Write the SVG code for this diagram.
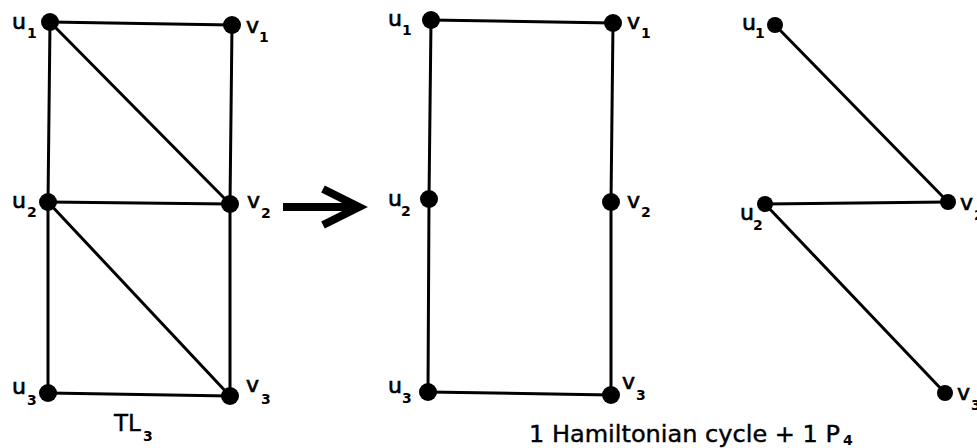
<svg xmlns="http://www.w3.org/2000/svg" width="977" height="448" viewBox="0 0 977 448">
<style>
  .e { stroke: #000; stroke-width: 3; fill: none; stroke-linecap: round; }
  .n { fill: #000; }
  .l { font-family: "DejaVu Sans", Verdana, sans-serif; font-size: 22px; fill: #000; stroke: #000; stroke-width: 0.7; }
  .s { font-family: "DejaVu Sans", Verdana, sans-serif; font-size: 14px; fill: #000; font-weight: bold; }
  .t { font-family: "DejaVu Sans", Verdana, sans-serif; font-size: 23px; fill: #000; stroke: #000; stroke-width: 0.4; }
</style>
<rect width="977" height="448" fill="#fff"/>
<g id="connectors">
  <!-- TL3 -->
  <line class="e" x1="50" y1="22" x2="232" y2="25"/>
  <line class="e" x1="50" y1="22" x2="48" y2="202"/>
  <line class="e" x1="48" y1="202" x2="48" y2="393"/>
  <line class="e" x1="232" y1="25" x2="230" y2="204"/>
  <line class="e" x1="230" y1="204" x2="230" y2="396"/>
  <line class="e" x1="48" y1="202" x2="230" y2="204"/>
  <line class="e" x1="48" y1="393" x2="230" y2="396"/>
  <line class="e" x1="50" y1="22" x2="230" y2="204"/>
  <line class="e" x1="48" y1="202" x2="230" y2="396"/>
  <!-- Hamiltonian cycle -->
  <line class="e" x1="431" y1="20" x2="613" y2="23"/>
  <line class="e" x1="431" y1="20" x2="429" y2="199"/>
  <line class="e" x1="429" y1="199" x2="428" y2="392"/>
  <line class="e" x1="428" y1="392" x2="611" y2="395"/>
  <line class="e" x1="613" y1="23" x2="611" y2="202"/>
  <line class="e" x1="611" y1="202" x2="611" y2="395"/>
  <!-- P4 -->
  <line class="e" x1="775" y1="25" x2="948" y2="202"/>
  <line class="e" x1="765" y1="204" x2="948" y2="202"/>
  <line class="e" x1="765" y1="204" x2="945" y2="393"/>
  <!-- arrow -->
  <line x1="283" y1="207" x2="355" y2="207" stroke="#000" stroke-width="8"/>
  <polyline points="323,189 359,207 323,225" fill="none" stroke="#000" stroke-width="8" stroke-linejoin="miter" stroke-miterlimit="10"/>
</g>
<g id="tl3">
  <g id="tl3-u1"><circle class="n" cx="50" cy="22" r="9"/><text class="l" x="12" y="29">u</text><text class="s" x="27" y="38">1</text></g>
  <g id="tl3-v1"><circle class="n" cx="232" cy="25" r="9"/><text class="l" x="246" y="33">v</text><text class="s" x="259" y="42">1</text></g>
  <g id="tl3-u2"><circle class="n" cx="48" cy="202" r="9"/><text class="l" x="12" y="208">u</text><text class="s" x="27" y="217">2</text></g>
  <g id="tl3-v2"><circle class="n" cx="230" cy="204" r="9"/><text class="l" x="247" y="208">v</text><text class="s" x="261" y="218">2</text></g>
  <g id="tl3-u3"><circle class="n" cx="48" cy="393" r="9"/><text class="l" x="12" y="394">u</text><text class="s" x="27" y="405">3</text></g>
  <g id="tl3-v3"><circle class="n" cx="230" cy="396" r="9"/><text class="l" x="246" y="392">v</text><text class="s" x="261" y="404">3</text></g>
  <text class="t" x="114" y="431">TL</text><text class="s" x="143" y="441">3</text>
</g>
<g id="cycle">
  <g id="c-u1"><circle class="n" cx="431" cy="20" r="9"/><text class="l" x="388" y="26">u</text><text class="s" x="402" y="35">1</text></g>
  <g id="c-v1"><circle class="n" cx="613" cy="23" r="9"/><text class="l" x="627" y="29">v</text><text class="s" x="641" y="38">1</text></g>
  <g id="c-u2"><circle class="n" cx="429" cy="199" r="9"/><text class="l" x="388" y="206">u</text><text class="s" x="401" y="216">2</text></g>
  <g id="c-v2"><circle class="n" cx="611" cy="202" r="9"/><text class="l" x="627" y="208">v</text><text class="s" x="641" y="217">2</text></g>
  <g id="c-u3"><circle class="n" cx="428" cy="392" r="9"/><text class="l" x="388" y="393">u</text><text class="s" x="402" y="403">3</text></g>
  <g id="c-v3"><circle class="n" cx="611" cy="395" r="9"/><text class="l" x="622" y="389">v</text><text class="s" x="636" y="400">3</text></g>
</g>
<g id="p4">
  <g id="p-u1"><circle class="n" cx="775" cy="25" r="8"/><text class="l" x="742" y="30">u</text><text class="s" x="755" y="38">1</text></g>
  <g id="p-u2"><circle class="n" cx="765" cy="204" r="8"/><text class="l" x="740" y="220">u</text><text class="s" x="753" y="230">2</text></g>
  <g id="p-v2"><circle class="n" cx="948" cy="202" r="8"/><text class="l" x="960" y="210">v</text><text class="s" x="974" y="220">2</text></g>
  <g id="p-v3"><circle class="n" cx="945" cy="393" r="8"/><text class="l" x="957" y="400">v</text><text class="s" x="971" y="410">3</text></g>
</g>
<g id="caption">
  <text class="t" x="529" y="442" textLength="311" lengthAdjust="spacingAndGlyphs">1 Hamiltonian cycle + 1 P</text><text class="s" x="843" y="445" font-size="12">4</text>
</g>
</svg>
